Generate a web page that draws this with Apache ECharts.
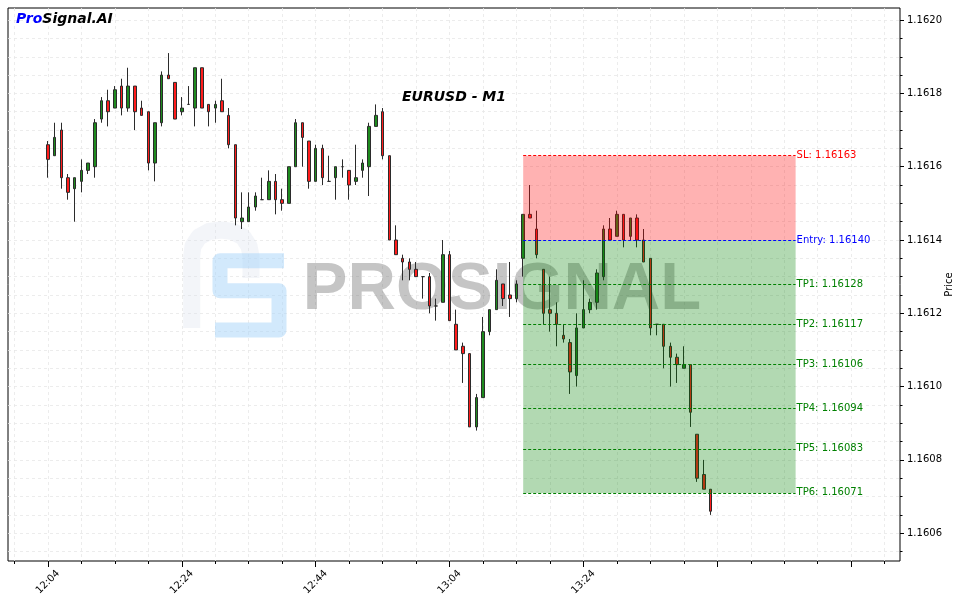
<!DOCTYPE html>
<html><head><meta charset="utf-8">
<script src="https://cdn.jsdelivr.net/npm/echarts@6/dist/echarts.min.js"></script>
<style>html,body{margin:0;padding:0;background:#fff}#c{width:963px;height:603px}</style>
</head><body><div id="c"></div>
<script>
// ---- data ----
const times = [
 '12:04','12:05','12:06','12:07','12:08','12:09','12:10','12:11','12:12','12:13',
 '12:14','12:15','12:16','12:17','12:18','12:19','12:20','12:21','12:22','12:23',
 '12:24','12:25','12:26','12:27','12:28','12:29','12:30','12:31','12:32','12:33',
 '12:34','12:35','12:36','12:37','12:38','12:39','12:40','12:41','12:42','12:43',
 '12:44','12:45','12:46','12:47','12:48','12:49','12:50','12:51','12:52','12:53',
 '12:54','12:55','12:56','12:57','12:58','12:59','13:00','13:01','13:02','13:03',
 '13:04','13:05','13:06','13:07','13:08','13:09','13:10','13:11','13:12','13:13',
 '13:14','13:15','13:16','13:17','13:18','13:19','13:20','13:21','13:22','13:23',
 '13:24','13:25','13:26','13:27','13:28','13:29','13:30','13:31','13:32','13:33',
 '13:34','13:35','13:36','13:37','13:38','13:39','13:40','13:41','13:42','13:43'
];
const openP = [
 1.16166,1.16163,1.16170,1.16157,1.16154,1.16156,1.16159,1.16160,1.16173,1.16178,
 1.16176,1.16182,1.16176,1.16182,1.16176,1.16175,1.16161,1.16172,1.16185,1.16183,
 1.16175,1.16177,1.16176,1.16187,1.16177,1.16176,1.16178,1.16174,1.16166,1.16145,
 1.16145,1.16149,1.16151,1.16151,1.16156,1.16151,1.16150,1.16160,1.16172,1.16167,
 1.16156,1.16165,1.16156,1.16157,1.16160,1.16159,1.16156,1.16159,1.16160,1.16171,
 1.16175,1.16163,1.16140,1.16135,1.16134,1.16132,1.16130,1.16130,1.16122,1.16123,
 1.16136,1.16117,1.16111,1.16109,1.16089,1.16097,1.16115,1.16121,1.16128,1.16125,
 1.16124,1.16135,1.16147,1.16143,1.16132,1.16121,1.16120,1.16114,1.16112,1.16103,
 1.16116,1.16121,1.16123,1.16130,1.16143,1.16141,1.16147,1.16141,1.16146,1.16140,
 1.16135,1.16117,1.16117,1.16111,1.16108,1.16105,1.16106,1.16087,1.16076,1.16072
];
const closeP = [
 1.16162,1.16168,1.16157,1.16153,1.16157,1.16159,1.16161,1.16172,1.16178,1.16175,
 1.16181,1.16176,1.16182,1.16175,1.16174,1.16161,1.16172,1.16185,1.16184,1.16173,
 1.16176,1.16177,1.16187,1.16176,1.16175,1.16177,1.16175,1.16166,1.16146,1.16146,
 1.16149,1.16152,1.16151,1.16156,1.16151,1.16150,1.16160,1.16172,1.16168,1.16156,
 1.16165,1.16157,1.16156,1.16160,1.16160,1.16155,1.16157,1.16161,1.16171,1.16174,
 1.16163,1.16140,1.16136,1.16134,1.16132,1.16130,1.16130,1.16122,1.16122,1.16136,
 1.16118,1.16110,1.16109,1.16089,1.16097,1.16115,1.16121,1.16129,1.16124,1.16124,
 1.16128,1.16147,1.16146,1.16136,1.16120,1.16120,1.16117,1.16113,1.16104,1.16116,
 1.16121,1.16123,1.16131,1.16143,1.16140,1.16147,1.16140,1.16146,1.16140,1.16134,
 1.16116,1.16117,1.16111,1.16108,1.16106,1.16106,1.16093,1.16075,1.16072,1.16066
];
const lowP = [
 1.16157,1.16163,1.16154,1.16151,1.16145,1.16153,1.16158,1.16157,1.16172,1.16171,
 1.16176,1.16174,1.16175,1.16170,1.16174,1.16159,1.16156,1.16171,1.16184,1.16173,
 1.16174,1.16177,1.16171,1.16176,1.16171,1.16172,1.16175,1.16165,1.16144,1.16143,
 1.16145,1.16148,1.16151,1.16151,1.16147,1.16148,1.16150,1.16160,1.16160,1.16154,
 1.16156,1.16155,1.16156,1.16151,1.16157,1.16151,1.16155,1.16157,1.16152,1.16171,
 1.16162,1.16140,1.16136,1.16129,1.16129,1.16130,1.16124,1.16120,1.16118,1.16123,
 1.16118,1.16110,1.16101,1.16089,1.16088,1.16097,1.16114,1.16121,1.16122,1.16119,
 1.16123,1.16130,1.16146,1.16135,1.16117,1.16115,1.16111,1.16112,1.16098,1.16100,
 1.16116,1.16120,1.16121,1.16129,1.16140,1.16141,1.16138,1.16140,1.16138,1.16134,
 1.16114,1.16114,1.16105,1.16100,1.16101,1.16105,1.16089,1.16074,1.16072,1.16065
];
const highP = [
 1.16167,1.16172,1.16172,1.16158,1.16157,1.16162,1.16161,1.16173,1.16179,1.16181,
 1.16182,1.16184,1.16187,1.16182,1.16178,1.16175,1.16172,1.16186,1.16191,1.16183,
 1.16179,1.16182,1.16187,1.16187,1.16177,1.16178,1.16184,1.16176,1.16166,1.16153,
 1.16153,1.16153,1.16157,1.16159,1.16158,1.16154,1.16160,1.16173,1.16172,1.16167,
 1.16166,1.16166,1.16163,1.16160,1.16162,1.16159,1.16166,1.16162,1.16172,1.16177,
 1.16176,1.16163,1.16144,1.16136,1.16135,1.16134,1.16130,1.16131,1.16124,1.16140,
 1.16137,1.16121,1.16112,1.16109,1.16098,1.16119,1.16121,1.16132,1.16128,1.16134,
 1.16129,1.16147,1.16155,1.16148,1.16132,1.16130,1.16123,1.16117,1.16113,1.16120,
 1.16129,1.16124,1.16132,1.16144,1.16146,1.16148,1.16147,1.16146,1.16147,1.16143,
 1.16135,1.16117,1.16117,1.16112,1.16109,1.16111,1.16106,1.16087,1.16080,1.16072
];
const xTickLabels = ['12:04','12:24','12:44','13:04','13:24','',''];
const yTickLabels = ['1.1606','1.1608','1.1610','1.1612','1.1614','1.1616','1.1618','1.1620'];
const levelNames  = ['SL','Entry','TP1','TP2','TP3','TP4','TP5','TP6'];
const levelPrices = [1.16163,1.16140,1.16128,1.16117,1.16106,1.16094,1.16083,1.16071];
const levelColors = ['#ff0000','#0000ff','#008000','#008000','#008000','#008000','#008000','#008000'];
const tradeWindow = ['13:15','13:55:42'];
const chartTitle = 'EURUSD - M1';

// ---- helpers ----
const FONT = 'DejaVu Sans';
function toMin(t){ const p=t.split(':').map(Number); return p[0]*60+p[1]+(p[2]||0)/60 - (12*60+4); }
const candles = times.map((t,i)=>[toMin(t), openP[i], closeP[i], lowP[i], highP[i]]);
const x0 = toMin(tradeWindow[0]), x1 = toMin(tradeWindow[1]);
const slP = levelPrices[0], entryP = levelPrices[1], lastTP = levelPrices[levelPrices.length-1];

// pixel layout
const PX_MIN = 6.694, X_ORIGIN = 47.9;     // px per minute, pixel of 12:04
const PX_UNIT = 3.665, Y_REF = 240, P_REF = 1.1614; // px per 0.00001
const plotL = 8, plotR = 900, plotT = 8, plotB = 561;
const xMin = (plotL - X_ORIGIN)/PX_MIN, xMax = (plotR - X_ORIGIN)/PX_MIN;
const yMax = P_REF + (Y_REF - plotT)/PX_UNIT*1e-5, yMin = P_REF - (plotB - Y_REF)/PX_UNIT*1e-5;
function py(p){ return Y_REF - (p - P_REF)/1e-5*PX_UNIT; }

const gridLine = {show:true, lineStyle:{color:'#e8e8e8', width:0.8, type:[3,3]}};
const hidden = {show:false};

const markLineData = levelPrices.map((p,i)=>[
  {coord:[x0,p], lineStyle:{color:levelColors[i], type:[3,2], width:1},
   label:{show:true, position:'end', distance:1, formatter: levelNames[i]+': '+p.toFixed(5),
          color:levelColors[i], fontFamily:FONT, fontSize:10}},
  {coord:[x1,p]}
]);

const option = {
  animation:false,
  backgroundColor:'#ffffff',
  grid:[
    {left:plotL, top:plotT, width:plotR-plotL, height:plotB-plotT, show:true, borderColor:'#000', borderWidth:1, backgroundColor:'rgba(0,0,0,0)'},
    {left:X_ORIGIN-5*PX_MIN, top:plotT, width:130*PX_MIN, height:plotB-plotT},
    {left:X_ORIGIN, top:plotT, width:120*PX_MIN, height:plotB-plotT},
    {left:plotL, top:py(1.1620), width:plotR-plotL, height:py(1.16055)-py(1.1620)},
    {left:plotL, top:py(1.1620), width:plotR-plotL, height:py(1.1606)-py(1.1620)}
  ],
  xAxis:[
    {type:'value', gridIndex:0, min:xMin, max:xMax, axisLine:{show:false, onZero:false}, axisTick:hidden, axisLabel:hidden, splitLine:hidden},
    {type:'value', gridIndex:1, min:-5, max:125, interval:5, axisLine:{show:false, onZero:false},
      axisTick:{show:true, length:3, lineStyle:{color:'#000', width:1}}, axisLabel:hidden, splitLine:gridLine},
    {type:'value', gridIndex:2, min:0, max:120, interval:20, axisLine:{show:false, onZero:false},
      axisTick:{show:true, length:6, lineStyle:{color:'#000', width:1}},
      axisLabel:{show:true, rotate:45, align:'center', verticalAlign:'middle', margin:21,
        fontFamily:FONT, fontSize:10, color:'#000',
        formatter:v=>xTickLabels[Math.round(v/20)] || ''},
      splitLine:hidden},
    {type:'value', gridIndex:3, min:0, max:1, show:false},
    {type:'value', gridIndex:4, min:0, max:1, show:false}
  ],
  yAxis:[
    {type:'value', gridIndex:0, min:yMin, max:yMax, position:'right', axisLine:{show:false, onZero:false},
      axisTick:hidden, axisLabel:hidden, splitLine:hidden,
      name:'Price', nameLocation:'middle', nameRotate:90, nameGap:44,
      nameTextStyle:{fontFamily:FONT, fontSize:10, color:'#000'}},
    {type:'value', gridIndex:1, min:0, max:1, show:false},
    {type:'value', gridIndex:2, min:0, max:1, show:false},
    {type:'value', gridIndex:3, min:1.16055, max:1.1620, interval:0.00005, position:'right', axisLine:{show:false, onZero:false},
      axisTick:{show:true, length:2.5, lineStyle:{color:'#000', width:1}}, axisLabel:hidden, splitLine:gridLine},
    {type:'value', gridIndex:4, min:1.1606, max:1.1620, interval:0.0002, position:'right', axisLine:{show:false, onZero:false},
      axisTick:{show:true, length:4, lineStyle:{color:'#000', width:1}},
      axisLabel:{show:true, margin:7, fontFamily:FONT, fontSize:10, color:'#000',
        formatter:v=>yTickLabels[Math.round((v-1.1606)/0.0002)]},
      splitLine:hidden}
  ],
  series:[
    {
      type:'candlestick', xAxisIndex:0, yAxisIndex:0, z:2,
      data:candles, barWidth:3,
      itemStyle:{color:'#1e8a1e', color0:'#ff1c1c', borderColor:'#2b2b2b', borderColor0:'#2b2b2b', borderColorDoji:'#2b2b2b', borderWidth:1}
    },
    {
      type:'line', xAxisIndex:0, yAxisIndex:0, data:[], z:3, silent:true,
      markArea:{z:3, silent:true, data:[
        [{coord:[x0,entryP], itemStyle:{color:'rgba(255,0,0,0.3)'}},{coord:[x1,slP]}],
        [{coord:[x0,lastTP], itemStyle:{color:'rgba(0,128,0,0.3)'}},{coord:[x1,entryP]}]
      ]},
      markLine:{z:5, silent:true, symbol:['none','none'], data:markLineData}
    }
  ],
  graphic:[
    {type:'polyline', z:1, silent:true, shape:{points:[[191.7,328],[191.7,256],[193,246],[199,237],[209,231.5],[221,230],[233,231.5],[243,237],[249,246],[251,256],[251,278]]},
      style:{stroke:'rgba(220,226,238,0.35)', lineWidth:17, fill:null, lineJoin:'round'}},
    {type:'polyline', z:1, silent:true, shape:{points:[[284,260.7],[220,260.7],[220,290.7],[279,290.7],[279,330],[215,330]]},
      style:{stroke:'rgba(165,212,250,0.5)', lineWidth:15, fill:null, lineJoin:'round'}},
    {type:'text', z:1, silent:true, x:502, y:291,
      style:{text:'PROSIGNAL', font:'bold 67px "Liberation Sans"', fill:'rgba(110,110,110,0.4)', align:'center', verticalAlign:'middle'}},
    {type:'text', z:10, x:454, y:97,
      style:{text:chartTitle, font:'italic bold 14px "DejaVu Sans"', fill:'#000', align:'center', verticalAlign:'middle'}},
    {type:'text', z:10, x:16, y:19,
      style:{text:'{a|Pro}{b|Signal.AI}', verticalAlign:'middle', align:'left',
        rich:{a:{font:'italic bold 14px "DejaVu Sans"', fill:'#0000ff', color:'#0000ff'},
              b:{font:'italic bold 14px "DejaVu Sans"', fill:'#000', color:'#000'}}}}
  ]
};
const chart = echarts.init(document.getElementById('c'), null, {renderer:'canvas', width:963, height:603});
chart.setOption(option);
</script></body></html>
